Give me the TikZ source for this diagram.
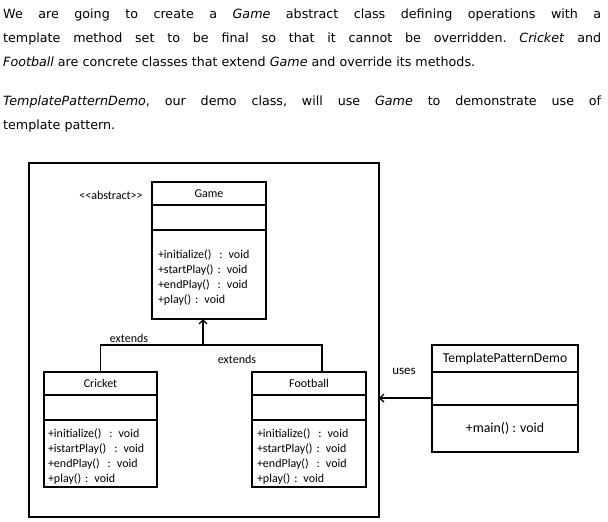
\documentclass[tikz,border=0pt]{standalone}
\usepackage{fontspec}
\setmainfont{DejaVu Sans}
\newfontfamily\umlfont{Carlito}
\usetikzlibrary{positioning,arrows.meta}

\tikzset{
  umlpart/.style={draw, line width=1.3pt, outer sep=0pt, inner sep=0pt, font=\umlfont\fontsize{12}{15}\selectfont},
  umllabel/.style={font=\umlfont\fontsize{12}{15}\selectfont, inner sep=0pt},
  umlline/.style={line width=1.3pt}
}
\newcommand{\firstline}{\rule{0pt}{14pt}}

\begin{document}
\begin{tikzpicture}[x=1pt,y=-1pt, >={Straight Barb[length=4pt,width=8pt]}]  % 1 единица = 1 пиксель, ось y вниз
    \useasboundingbox (0,0) rectangle (608,522);

            % Текст над диаграммой
            \node[anchor=north west, text width=598pt, align=justify, inner sep=0pt,
                  font=\fontsize{12.7}{24}\selectfont] (intro) at (3,8.5) {%
              \setlength{\parindent}{0pt}\setlength{\parskip}{15pt}\hyphenpenalty=10000\frenchspacing
              We are going to create a \textit{Game} abstract class defining operations with a\linebreak
              template method set to be final so that it cannot be overridden. \textit{Cricket} and\linebreak
              \textit{Football} are concrete classes that extend \textit{Game} and override its methods.\par
              \textit{TemplatePatternDemo}, our demo class, will use \textit{Game} to demonstrate use of\linebreak
              template pattern.};

            % Рамка вокруг классов
            \node[draw, umlline, minimum width=350pt, minimum height=354pt, inner sep=0pt, outer sep=0pt] (frame) at (204,340) {};

            % Абстрактный класс
            \node[umlpart, minimum width=114pt, minimum height=23pt] (gametitle) at (209,193.5) {Game};
            \node[umlpart, minimum width=114pt, minimum height=25pt, below=0pt of gametitle] (gameattr) {};
            \node[umlpart, minimum width=114pt, minimum height=89pt, text width=102pt, align=left, below=0pt of gameattr] (gamemethods)
                {\firstline+initialize()\ \ : void\\+startPlay() : void\\+endPlay()\ \ : void\\+play() : void};
            \node[umllabel] (abstract) at (111,195) {{<}{<}abstract{>}{>}};

            % Конкретные классы
            \node[umlpart, minimum width=113pt, minimum height=23pt] (crickettitle) at (100.5,383.5) {Cricket};
            \node[umlpart, minimum width=113pt, minimum height=25pt, below=0pt of crickettitle] (cricketattr) {};
            \node[umlpart, minimum width=113pt, minimum height=67pt, text width=105pt, align=left, below=0pt of cricketattr] (cricketmethods)
                {\firstline+initialize()\ \ : void\\+istartPlay()\ \ : void\\+endPlay()\ \ : void\\+play() : void};

            \node[umlpart, minimum width=114pt, minimum height=23pt] (footballtitle) at (309,383.5) {Football};
            \node[umlpart, minimum width=114pt, minimum height=25pt, below=0pt of footballtitle] (footballattr) {};
            \node[umlpart, minimum width=114pt, minimum height=67pt, text width=104pt, align=left, below=0pt of footballattr] (footballmethods)
                {\firstline+initialize()\ \ : void\\+startPlay() : void\\+endPlay()\ \ : void\\+play() : void};

            % Демо-класс
            \node[umlpart, font=\umlfont\fontsize{13.6}{15}\selectfont, minimum width=146pt, minimum height=27pt] (demotitle) at (505,358.5) {TemplatePatternDemo};
            \node[umlpart, minimum width=146pt, minimum height=33pt, below=0pt of demotitle] (demoattr) {};
            \node[umlpart, font=\umlfont\fontsize{13.8}{15}\selectfont, minimum width=146pt, minimum height=47pt, below=0pt of demoattr] (demomethods) {+main() : void};

            % Наследование
            \coordinate (fork) at (203,345);
        \draw[umlline] (crickettitle.north) |- (fork) -| ([xshift=13pt]footballtitle.north);
        \draw[umlline,->] (fork) -- (fork |- gamemethods.south);
            \node[umllabel] (extendsleft) at (129,338) {extends};
            \node[umllabel] (extendsright) at (237,359) {extends};

            % Использование
        \draw[umlline,->] ([yshift=-9.5pt]demoattr.west) -- ([yshift=-9.5pt]demoattr.west -| frame.east);
            \node[umllabel, font=\umlfont\fontsize{13}{15}\selectfont] (uses) at (404,371) {uses};
        \end{tikzpicture}
\end{document}
